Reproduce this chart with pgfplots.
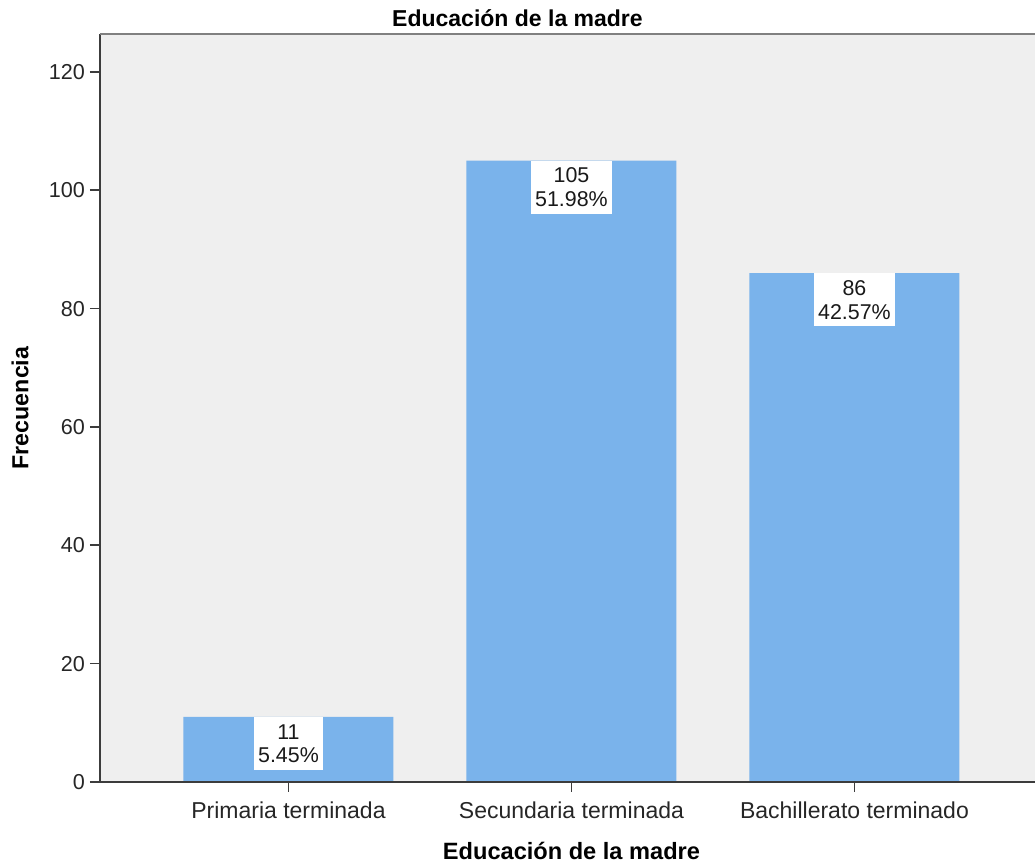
\documentclass[border=0pt]{standalone}
\usepackage{fontspec}
\setmainfont{Liberation Sans}
\usepackage{pgfplots}
\pgfplotsset{compat=1.18}
\definecolor{barblue}{RGB}{122,179,235}
\definecolor{plotbg}{RGB}{239,239,239}
\definecolor{axisdark}{RGB}{60,60,60}
\begin{document}
\begin{tikzpicture}
\begin{axis}[
  scale only axis,
  width=467.5pt, height=374pt,
  xmin=-0.666, xmax=2.638,
  ymin=0, ymax=126.4,
  axis background/.style={fill=plotbg},
  axis line style={draw=none},
  ytick={0,20,40,60,80,100,120},
  xtick={0,1,2},
  xtick pos=bottom, ytick pos=left,
  xticklabels={Primaria terminada,Secundaria terminada,Bachillerato terminado},
  tick align=outside,
  major tick length=5pt,
  tick style={draw=axisdark, line width=0.8pt},
  /pgf/number format/assume math mode=true,
  yticklabel style={xshift=1pt, font=\fontsize{10.8}{12}\selectfont, text=black!85},
  xticklabel style={yshift=-1.5pt, font=\fontsize{11.5}{13}\selectfont, text=black!85},
  every axis y label/.style={at={([xshift=-40pt]axis description cs:0,0.5)}, rotate=90, anchor=center, font=\bfseries\fontsize{11.6}{13}\selectfont},
  every axis x label/.style={at={([yshift=-34.5pt]axis cs:1,0)}, anchor=center, font=\bfseries\fontsize{11.8}{13}\selectfont},
  ylabel={Frecuencia},
  xlabel={Educación de la madre},
  title={Educación de la madre},
  every axis title/.style={at={([yshift=8pt]axis description cs:0.4465,1)}, anchor=center, font=\bfseries\fontsize{11.5}{12}\selectfont},
  ybar, bar width=105pt, bar shift=0pt,
  clip=false,
]
\addplot[fill=barblue, draw=none,
  nodes near coords={\pgfplotspointmeta},
  point meta=explicit symbolic,
  every node near coord/.style={anchor=north, fill=white, align=center, inner xsep=2pt, inner ysep=3.5pt, font=\fontsize{10.7}{11.8}\selectfont, text=black!90}]
  table[meta=lab, row sep=\\] {
  x y lab\\
  0 11 {11\\5.45\%}\\
  1 105 {105\\51.98\%}\\
  2 86 {86\\42.57\%}\\
};
\draw[axisdark, line width=0.9pt] (rel axis cs:0,1) -- (rel axis cs:0,0) -- (rel axis cs:1,0);
\draw[black!50, line width=1.2pt] (rel axis cs:0,1) -- (rel axis cs:1,1);
\coordinate (A) at (rel axis cs:0,0);
\coordinate (B) at (rel axis cs:1,1);
\end{axis}
\pgfresetboundingbox
\path ([shift={(-50pt,-41.5pt)}]A) rectangle ([shift={(0pt,17pt)}]B);
\end{tikzpicture}
\end{document}
